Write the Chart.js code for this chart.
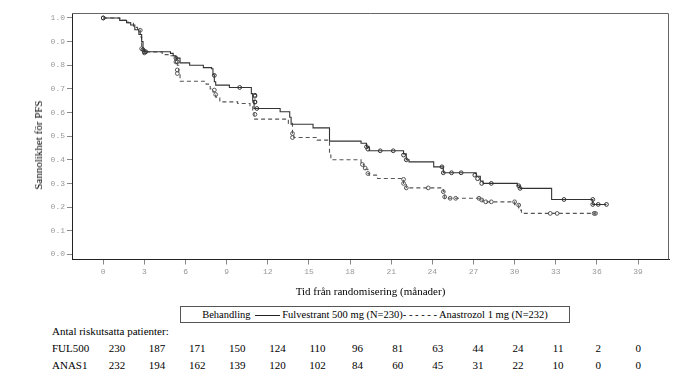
<!DOCTYPE html>
<html>
<head>
<meta charset="utf-8">
<script src="https://cdn.jsdelivr.net/npm/chart.js@4/dist/chart.umd.min.js"></script>
<style>
body{margin:0;background:#fff;width:676px;height:380px;position:relative;overflow:hidden;font-family:"Liberation Serif","DejaVu Serif",serif;color:#000;}
#wrap{position:absolute;left:0;top:0;width:676px;height:300px;}
#ytitle{position:absolute;left:38px;top:145px;transform:translate(-50%,-50%) rotate(-90deg);font-size:11px;white-space:nowrap;}
#legend{position:absolute;left:180px;top:306px;width:388px;height:15px;border:1px solid #555;font-size:10.5px;line-height:15px;text-align:center;white-space:nowrap;}
.solid{display:inline-block;width:25px;border-top:1px solid #222;vertical-align:middle;margin:0 2px;}
.risk{position:absolute;font-size:11px;white-space:nowrap;line-height:12px;}
</style>
</head>
<body>
<div id="wrap"><canvas id="chart" width="676" height="300"></canvas></div>
<div id="ytitle">Sannolikhet för PFS</div>
<div id="legend">Behandling <span class="solid"></span>Fulvestrant 500 mg (N=230)- - - - - - Anastrozol 1 mg (N=232)</div>
<div id="risktable"></div>
<script>
// tick labels
let xTicks = [0,3,6,9,12,15,18,21,24,27,30,33,36,39];
let yTicks = [0,0.1,0.2,0.3,0.4,0.5,0.6,0.7,0.8,0.9,1.0];

// Kaplan-Meier steps (month, survival)
let ful500Months = [0,1.2,1.7,2.0,2.3,2.6,2.8,2.9,3.0,4.9,5.1,5.3,5.6,6.3,7.3,7.9,8.0,8.1,8.2,9.2,10.8,10.9,11.0,12.9,13.6,13.7,15.3,16.5,18.8,19.2,19.4,21.9,22.1,22.3,24.1,24.8,27.2,27.5,27.7,30.2,30.4,32.7,35.7,36.7];
let ful500Surv = [1.0,0.99,0.98,0.97,0.95,0.93,0.90,0.866,0.857,0.85,0.84,0.83,0.81,0.80,0.79,0.785,0.76,0.73,0.716,0.706,0.68,0.65,0.617,0.603,0.58,0.55,0.535,0.479,0.47,0.455,0.438,0.425,0.40,0.391,0.37,0.345,0.33,0.31,0.30,0.29,0.279,0.232,0.211,0.211];
let anas1Months = [0,1.2,1.8,2.2,2.5,2.7,2.8,2.9,3.0,4.3,4.8,5.3,5.4,5.5,5.6,7.5,7.8,8.0,8.2,8.5,9.8,10.7,10.9,11.0,13.5,13.8,13.9,15.6,16.5,16.6,18.8,19.0,19.3,19.4,20.0,21.9,22.1,24.8,24.9,27.5,27.7,30.0,30.3,30.5,35.9];
let anas1Surv = [1.0,0.99,0.98,0.96,0.948,0.92,0.88,0.86,0.856,0.845,0.84,0.828,0.80,0.76,0.732,0.72,0.70,0.687,0.665,0.645,0.638,0.625,0.60,0.572,0.554,0.51,0.494,0.483,0.42,0.40,0.38,0.36,0.342,0.335,0.321,0.30,0.281,0.265,0.237,0.23,0.222,0.21,0.187,0.173,0.173];

// censored patients
let ful500CensorMonths = [0,2.9,3.0,3.1,5.3,5.4,8.1,9.95,11.06,11.06,11.2,19.2,19.3,20.2,21.15,21.9,22.1,24.7,24.8,25.4,26.1,27.1,27.3,27.6,28.3,30.3,30.4,33.6,35.7,35.7,36.1,36.7];
let ful500CensorSurv = [1.0,0.866,0.857,0.857,0.83,0.815,0.757,0.706,0.673,0.644,0.617,0.455,0.445,0.438,0.438,0.42,0.40,0.37,0.345,0.345,0.345,0.335,0.32,0.30,0.30,0.29,0.279,0.232,0.232,0.211,0.211,0.211];
let anas1CensorMonths = [0,2.7,2.8,3.0,5.3,5.4,5.4,8.1,8.2,11.06,11.06,11.06,13.8,13.8,18.9,19.1,19.3,21.9,21.9,22.1,23.7,24.8,24.9,25.3,25.7,27.4,27.6,27.9,28.3,30.0,30.3,32.6,33.1,35.8,35.9];
let anas1CensorSurv = [1.0,0.948,0.87,0.852,0.814,0.78,0.765,0.695,0.676,0.669,0.645,0.592,0.511,0.494,0.38,0.365,0.342,0.317,0.30,0.281,0.281,0.265,0.243,0.237,0.237,0.237,0.23,0.222,0.222,0.222,0.208,0.173,0.173,0.173,0.173];

// number at risk
let riskLabels = ["FUL500","ANAS1"];
let ful500Risk = [230,187,171,150,124,110,96,81,63,44,24,11,2,0];
let anas1Risk = [232,194,162,139,120,102,84,60,45,31,22,10,0,0];

function pts(xs, ys){
return xs.map(function(x,i){ return {x:x, y:ys[i]}; });
}

/* frame round the plot */
const framePlugin = {
id:'frame',
afterDraw(chart){
let a = chart.chartArea;
let c = chart.ctx;
c.save();
c.strokeStyle = '#666';
c.lineWidth = 1;
c.beginPath();
c.moveTo(a.left, a.top + 0.5);
c.lineTo(a.right - 0.5, a.top + 0.5);
c.lineTo(a.right - 0.5, a.bottom);
c.stroke();
c.restore();
}
};

let tickFont = {family:'"Liberation Mono", monospace', size:8};

new Chart(document.getElementById("chart").getContext("2d"),{
type:'line',
data:{
datasets:[
{label:'Fulvestrant 500 mg (N=230)', data:pts(ful500Months, ful500Surv), stepped:true, borderColor:'#333', borderWidth:1.1, pointRadius:0, fill:false},
{label:'Anastrozol 1 mg (N=232)', data:pts(anas1Months, anas1Surv), stepped:true, borderColor:'#555', borderWidth:1.1, borderDash:[4,3], pointRadius:0, fill:false},
{type:'scatter', data:pts(ful500CensorMonths, ful500CensorSurv), showLine:false, pointRadius:1.9, pointBorderWidth:1, pointBorderColor:'#333', pointBackgroundColor:'rgba(255,255,255,0)'},
{type:'scatter', data:pts(anas1CensorMonths, anas1CensorSurv), showLine:false, pointRadius:1.9, pointBorderWidth:1, pointBorderColor:'#555', pointBackgroundColor:'rgba(255,255,255,0)'}
]
},
options:{
responsive:false,
animation:false,
layout:{padding:{left:0, top:13, right:7, bottom:0}},
plugins:{legend:{display:false}, tooltip:{enabled:false}},
scales:{
x:{
type:'linear', min:-2.28, max:41.26,
afterBuildTicks:function(s){ s.ticks = xTicks.map(function(v){ return {value:v}; }); },
afterFit:function(s){ s.height = 40.5; },
ticks:{font:tickFont, color:'#999', padding:3, maxRotation:0, autoSkip:false, callback:function(v){ return String(v); }},
grid:{drawOnChartArea:false, tickLength:5, tickColor:'#888'},
border:{color:'#222', width:1},
title:{display:true, text:'Tid från randomisering (månader)', font:{family:'"Liberation Serif", serif', size:11}, color:'#000', padding:{top:0, bottom:1.5}}
},
y:{
min:-0.022, max:1.021,
afterBuildTicks:function(s){ s.ticks = yTicks.map(function(v){ return {value:v}; }); },
afterFit:function(s){ s.width = 72; },
ticks:{font:tickFont, color:'#999', padding:2, autoSkip:false, callback:function(v){ return v.toFixed(1); }},
grid:{drawOnChartArea:false, tickLength:5, tickColor:'#888'},
border:{color:'#222', width:1}
}
}
},
plugins:[framePlugin]
});

/* number at risk table */
let table = document.getElementById("risktable");
let html = '<div class="risk" style="left:52px;top:325px">Antal riskutsatta patienter:</div>';
let rows = [ful500Risk, anas1Risk];
for(let r = 0; r < rows.length; r++){
let top = 342 + r*17;
html += '<div class="risk" style="left:52px;top:' + top + 'px">' + riskLabels[r] + '</div>';
for(let i = 0; i < rows[r].length; i++){
let cx = 117 + i*40.1;
html += '<div class="risk" style="left:' + (cx - 15) + 'px;width:30px;text-align:center;top:' + top + 'px">' + rows[r][i] + '</div>';
}
}
table.innerHTML = html;
</script>
</body>
</html>
